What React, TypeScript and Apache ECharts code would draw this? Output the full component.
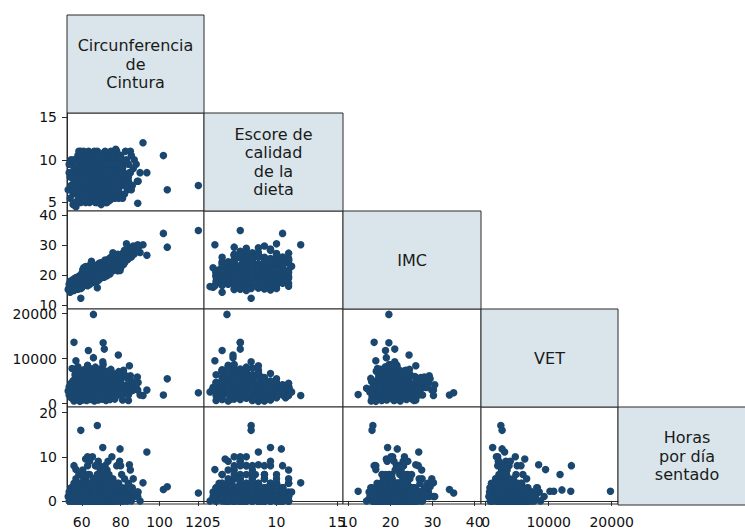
import React, { useEffect, useRef } from "react";
import * as echarts from "echarts";

// Variables of the scatter-plot matrix (diagonal labels, in order)
const variableLabels = [
  "Circunferencia\nde\nCintura",
  "Escore de\ncalidad\nde la\ndieta",
  "IMC",
  "VET",
  "Horas\npor día\nsentado",
];

// Tick values for each variable's axis
const tickValues = [
  [60, 80, 100, 120],
  [5, 10, 15],
  [10, 20, 30, 40],
  [0, 10000, 20000],
  [0, 10, 20],
];

// Scale bounds for each variable
const scaleBounds = [
  [52.4, 122.9],
  [4, 15.5],
  [8.7, 41.5],
  [-750, 21000],
  [-0.7, 21.3],
];

// Observations: [cintura, escore, imc, vet, horas]
const obsCinturaBaja = [
  [53, 6.5, 15.2, 2800, 1], [53.5, 8.5, 17.0, 1900, 0], [54, 5.5, 14.3, 3400, 0],
  [54, 8.0, 18.0, 2100, 2], [54.5, 10.0, 15.6, 1300, 3], [55, 7.0, 16.4, 4200, 3],
  [55, 9.5, 15.1, 2500, 1], [55.5, 6.0, 18.6, 5100, 0], [55.5, 4.75, 16.0, 3600, 2],
  [56, 7.5, 14.9, 3000, 2], [56, 10.0, 16.8, 2500, 4], [56.5, 5.0, 17.3, 6400, 1],
  [56.5, 9.0, 19.0, 4400, 0], [57, 8.5, 15.7, 1600, 0], [57, 6.5, 19.2, 3700, 5],
  [57, 4.5, 16.2, 2600, 0], [57.5, 9.0, 16.1, 4600, 2], [57.5, 7.0, 18.1, 900, 1],
  [58, 5.25, 17.6, 2200, 1], [58, 7.0, 15.3, 5600, 3], [58, 10.5, 18.2, 3300, 0],
  [58.5, 8.0, 19.7, 2700, 6], [58.5, 5.5, 16.6, 7200, 2], [58.5, 11.0, 17.2, 3900, 1],
  [59, 6.0, 17.0, 4000, 1], [59, 9.0, 19.4, 2300, 3], [59, 7.5, 15.9, 3200, 0],
  [59.5, 11.0, 16.3, 3600, 0], [59.5, 7.0, 18.0, 2900, 6], [59.5, 5.0, 19.9, 1800, 2],
  [60, 7.5, 18.5, 1200, 2], [60, 5.5, 20.6, 4800, 4], [60, 8.5, 15.8, 3100, 0],
  [60, 9.0, 20.0, 5300, 1], [60.5, 6.5, 21.8, 2500, 7], [60.5, 10.0, 18.9, 2000, 0],
  [61, 10.0, 17.4, 5500, 1], [61, 7.0, 19.0, 6800, 2], [61, 6.5, 17.0, 2700, 0],
  [61, 8.0, 22.5, 3800, 3], [61.5, 9.5, 16.7, 2000, 3], [61.5, 5.75, 20.3, 3300, 1],
  [62, 5.0, 18.1, 3900, 0], [62, 8.0, 22.9, 1700, 5], [62, 6.0, 20.2, 4400, 1],
  [62, 8.5, 19.3, 3000, 4], [62, 5.75, 19.0, 6200, 9.5], [62.5, 10.5, 18.8, 2900, 2],
  [62.5, 7.25, 17.2, 6000, 0], [63, 7.5, 16.5, 5000, 8], [63, 9.0, 21.3, 3500, 0],
  [63, 6.5, 17.7, 7600, 1], [63, 7.5, 20.5, 1900, 10], [63.5, 11.0, 19.6, 2400, 4],
  [63.5, 5.5, 22.4, 1400, 2], [63.5, 8.75, 18.3, 4900, 1], [64, 8.5, 18.4, 4300, 3],
  [64, 7.0, 20.8, 3200, 9], [64, 10.0, 16.9, 4600, 0], [64, 5.0, 21.0, 4700, 1],
  [64.5, 6.0, 19.9, 2600, 1], [64.5, 9.5, 23.6, 3800, 2],
];

const obsCinturaMedia = [
  [65, 7.5, 24.7, 2200, 0], [65, 8.0, 19.5, 3400, 2], [65, 5.5, 18.3, 5800, 1],
  [65, 9.5, 22.2, 3200, 1], [65.5, 10.5, 21.2, 2800, 3], [65.5, 6.5, 20.1, 4700, 10],
  [65.5, 8.75, 17.6, 1100, 0], [66, 9.0, 17.8, 1500, 1], [66, 7.0, 22.6, 6500, 0],
  [66, 8.0, 19.7, 2000, 4], [66, 5.25, 21.0, 3700, 2], [66.5, 11.0, 19.0, 3600, 5],
  [66.5, 8.5, 20.9, 2400, 2], [66.5, 6.75, 18.8, 5000, 0], [67, 6.0, 18.6, 4900, 0],
  [67, 9.5, 23.1, 3100, 8], [67, 5.0, 21.4, 2700, 3], [67, 7.0, 20.5, 5500, 2],
  [67.5, 7.5, 19.8, 7300, 1], [67.5, 10.0, 22.0, 1800, 4], [67.5, 8.25, 18.1, 3000, 1],
  [68, 8.0, 20.4, 4400, 2], [68, 6.5, 18.0, 3300, 6], [68, 11.0, 21.7, 3600, 0],
  [68, 9.5, 19.0, 2500, 0], [68.5, 9.0, 23.8, 2600, 1], [68.5, 7.0, 19.2, 3900, 9],
  [68.5, 5.75, 22.1, 6200, 0], [69, 5.5, 20.7, 2100, 2], [69, 10.5, 18.9, 4200, 3],
  [69, 8.5, 22.3, 6000, 0], [69, 7.5, 21.4, 3700, 8], [69.5, 6.0, 21.1, 3000, 7],
  [69.5, 9.5, 24.2, 2300, 1], [69.5, 10.75, 20.0, 1300, 2], [70, 7.5, 20.0, 5600, 4],
  [70, 10.0, 22.8, 3500, 2], [70, 5.0, 19.5, 2900, 0], [70, 9.0, 20.9, 4200, 3],
  [70, 4.75, 22.5, 3300, 1], [70.5, 8.0, 21.6, 7900, 1], [70.5, 6.5, 23.4, 1600, 5],
  [71, 7.0, 20.2, 3400, 2], [71, 9.5, 22.7, 2200, 0], [71, 5.5, 24.1, 4800, 6],
  [71, 8.5, 21.5, 4100, 4], [71.5, 8.0, 21.0, 6300, 1], [71.5, 10.5, 19.3, 2700, 3],
  [71.5, 6.25, 20.7, 1000, 0], [72, 6.5, 23.2, 3900, 0], [72, 9.0, 21.9, 1900, 8],
  [72, 11.0, 25.1, 3500, 2], [72, 7.75, 22.0, 5200, 3], [72.5, 7.5, 20.6, 5100, 4],
  [72.5, 8.5, 22.4, 3000, 1], [72.5, 10.25, 23.5, 2300, 0], [73, 5.0, 21.5, 2500, 0],
  [73, 10.0, 24.6, 4400, 5], [73, 7.0, 19.8, 3600, 2], [73, 8.0, 22.5, 2600, 7],
  [73.5, 9.5, 23.0, 2000, 9], [73.5, 6.0, 22.1, 4600, 1], [73.5, 7.25, 24.3, 6600, 0],
  [74, 8.0, 25.5, 3300, 3], [74, 10.5, 21.2, 3900, 0], [74, 7.5, 23.7, 2800, 6],
  [74.5, 9.0, 20.4, 4000, 2], [74.5, 6.5, 22.9, 7100, 1], [74.5, 5.25, 21.8, 3000, 4],
  [75, 11.0, 24.0, 2400, 4], [75, 8.5, 22.0, 3700, 0], [75, 5.5, 26.0, 5000, 2],
  [75.5, 7.0, 23.3, 1700, 10], [75.5, 10.0, 21.6, 4300, 1], [76, 9.5, 24.8, 2900, 3],
  [76, 6.0, 22.6, 6000, 0], [76, 8.0, 27.5, 3500, 5],
];

const obsCinturaAlta = [
  [77, 7.5, 23.5, 4500, 2], [77, 10.0, 25.8, 2300, 0], [77, 5.5, 21.9, 3200, 3],
  [77.5, 9.0, 24.4, 5800, 1], [77.5, 11.25, 23.0, 2600, 2], [78, 6.5, 26.6, 2700, 8],
  [78, 8.5, 22.7, 3800, 2], [78, 11.0, 24.9, 1800, 0], [78.5, 7.0, 27.0, 4800, 4],
  [78.5, 9.75, 21.5, 3400, 1], [79, 9.5, 23.2, 3100, 1], [79, 10.5, 25.3, 3800, 3],
  [79, 8.0, 24.0, 4000, 4], [79.5, 6.0, 24.1, 2100, 9], [80, 8.0, 26.2, 3500, 0],
  [80, 7.5, 22.4, 5300, 2], [80, 10.5, 23.0, 2900, 8], [80.5, 9.0, 25.0, 2500, 6],
  [81, 10.0, 27.3, 4100, 1], [81, 5.5, 24.5, 3000, 3], [81.5, 8.5, 23.6, 7400, 0],
  [82, 7.0, 26.8, 2200, 5], [82, 9.5, 28.4, 3700, 2], [82.5, 11.0, 25.6, 3300, 1],
  [83, 8.0, 26.0, 3200, 3], [83.5, 6.5, 25.2, 2600, 0], [84, 9.5, 28.8, 4200, 4],
  [84, 7.5, 26.7, 1900, 2], [85, 11.0, 27.4, 3400, 7], [85, 8.5, 29.2, 6200, 1],
  [85.5, 10.5, 26.1, 2800, 0], [85.5, 6.5, 27.0, 5000, 2], [86, 7.0, 28.0, 4500, 3],
  [86.5, 9.0, 29.8, 3000, 5], [87, 10.0, 27.1, 4500, 2], [88, 9.5, 28.5, 3600, 1],
  [89, 7.5, 29.0, 4700, 2], [90, 8.5, 27.6, 1900, 0],
];

// Dense core of the sample
const obsNucleo = [
  [57.5, 6.0, 17.5, 3500, 3], [58, 8.5, 16.9, 4100, 0], [58.5, 9.5, 18.5, 1500, 1],
  [59, 5.5, 18.2, 5200, 2], [59, 10.0, 17.8, 2600, 4], [59.5, 8.0, 17.1, 4400, 1],
  [60, 6.0, 19.3, 2200, 3], [60, 10.5, 17.3, 3800, 2], [60.5, 8.0, 19.6, 6300, 0],
  [60.5, 5.25, 18.0, 2900, 1], [61, 9.0, 18.3, 1600, 5], [61, 11.0, 20.9, 4500, 0],
  [61.5, 7.5, 18.7, 3500, 2], [61.5, 6.0, 21.5, 5700, 4], [62, 9.5, 17.6, 2500, 0],
  [62, 7.0, 21.0, 4800, 2], [62.5, 5.5, 19.5, 2000, 3], [62.5, 8.75, 20.6, 3700, 1],
  [63, 5.75, 19.0, 5400, 0], [63, 10.5, 18.0, 3200, 3], [63.5, 7.0, 21.7, 2800, 4],
  [63.5, 9.5, 19.9, 6700, 2], [64, 6.5, 17.4, 3600, 0], [64, 9.0, 22.2, 2100, 6],
  [64.5, 7.5, 20.3, 5400, 0], [64.5, 10.5, 18.6, 3100, 1], [65, 6.25, 21.8, 2600, 3],
  [65, 10.0, 18.6, 4500, 0], [65.5, 7.25, 19.0, 3900, 2], [65.5, 9.25, 23.3, 1700, 1],
  [66, 6.0, 20.4, 2900, 5], [66, 10.25, 21.9, 4000, 0], [66.5, 7.75, 22.8, 3200, 3],
  [66.5, 5.5, 19.6, 4400, 1], [67, 8.75, 19.3, 5900, 0], [67, 10.5, 20.0, 2300, 2],
  [67.5, 6.25, 21.0, 1400, 4], [67.5, 9.0, 20.7, 4300, 0], [68, 7.25, 22.9, 2200, 1],
  [68, 5.0, 19.8, 4700, 2], [68.5, 10.0, 20.3, 3100, 6], [68.5, 8.0, 21.8, 5400, 0],
  [69, 6.5, 19.6, 3400, 1], [69, 9.25, 20.4, 1800, 3], [69.5, 7.0, 22.9, 4900, 2],
  [69.5, 8.5, 19.9, 2700, 0], [70, 6.0, 21.7, 3800, 1], [70, 8.25, 23.2, 2400, 6],
  [70.5, 9.5, 20.5, 5000, 2], [70.5, 7.0, 22.0, 3000, 0], [71, 10.0, 21.3, 3900, 1],
  [71, 6.0, 22.9, 2600, 3], [71.5, 9.0, 24.6, 4500, 0], [71.5, 7.5, 22.3, 2000, 2],
  [72, 5.75, 21.4, 5600, 1], [72, 8.0, 20.3, 3300, 4], [72.5, 9.5, 22.6, 4600, 0],
  [72.5, 6.0, 23.9, 2700, 2], [73, 9.0, 21.1, 3000, 3], [73, 6.5, 23.6, 5300, 0],
  [73.5, 8.5, 21.6, 1500, 1], [73.5, 10.5, 22.8, 3400, 2], [74, 6.0, 24.2, 4200, 0],
  [74, 9.5, 22.3, 2500, 4], [74.5, 8.0, 24.9, 3500, 1], [75, 7.0, 21.7, 5900, 3],
  [75, 9.5, 25.2, 2000, 0], [75.5, 8.5, 23.8, 4700, 2], [76, 7.0, 21.5, 2300, 1],
  [76, 10.5, 23.4, 4100, 0], [76.5, 6.5, 24.5, 3300, 3], [76.5, 9.0, 22.0, 5400, 1],
  [77, 8.5, 26.4, 2800, 0], [77.5, 6.0, 23.7, 4200, 4], [78, 9.5, 25.6, 2400, 1],
  [78.5, 8.0, 23.9, 3600, 0], [79, 6.5, 26.8, 5000, 2], [79.5, 8.5, 22.9, 3000, 3],
  [80, 9.5, 24.7, 4300, 1], [81, 7.5, 25.4, 2600, 0], [56, 8.5, 17.7, 3200, 1],
  [56.5, 6.5, 15.5, 4900, 2], [55, 8.0, 17.6, 2800, 0], [54.5, 7.0, 16.5, 4500, 1],
  [53.5, 9.5, 15.8, 3700, 2],
];

// Observations at the upper and lower ends of the energy intake (VET)
const obsVetExtremos = [
  [55, 6.5, 16.9, 7800, 1], [56, 9.0, 15.4, 600, 2], [57, 7.5, 17.0, 6900, 0],
  [58, 6.0, 18.8, 8200, 3], [59, 8.5, 16.5, 500, 1], [60, 7.0, 17.7, 7000, 0],
  [60.5, 9.5, 19.1, 800, 2], [61, 5.5, 18.4, 7500, 1], [62, 7.5, 20.7, 6600, 3],
  [62.5, 9.0, 17.9, 700, 0], [63, 6.0, 21.5, 8500, 2], [64, 8.0, 19.4, 6400, 1],
  [64.5, 5.5, 17.9, 900, 4], [65, 7.0, 20.8, 7700, 0], [66, 8.5, 18.3, 6900, 2],
  [66.5, 6.0, 22.3, 600, 1], [67, 7.5, 21.2, 8100, 3], [68, 6.0, 20.0, 7000, 1],
  [68.5, 9.0, 21.0, 800, 0], [69, 7.0, 18.6, 6500, 5], [70, 5.5, 22.1, 7400, 2],
  [70.5, 9.0, 21.8, 1000, 1], [71, 6.5, 19.7, 8700, 0], [72, 7.0, 23.0, 6800, 2],
  [72.5, 5.0, 20.8, 700, 3], [73, 8.5, 23.1, 7200, 1], [74, 6.5, 21.5, 6200, 0],
  [74.5, 9.5, 23.8, 900, 2], [75, 6.0, 24.5, 7600, 1], [76, 8.5, 22.3, 6700, 3],
  [77, 6.5, 25.1, 1000, 0], [78, 7.5, 24.6, 6500, 1], [79, 5.5, 23.4, 7100, 2],
  [80, 7.0, 25.8, 6000, 0], [81, 9.0, 26.0, 800, 1], [82, 6.0, 24.2, 6400, 2],
  [83, 7.0, 27.2, 5800, 0], [84, 8.0, 25.6, 700, 3], [61.5, 8.0, 19.6, 5900, 6],
  [67.5, 8.0, 22.5, 5600, 8],
];

// Observations far from the main cloud
const obsAtipicos = [
  [120, 7.0, 35.0, 2400, 1.8], [102, 10.5, 34.0, 1900, 2.6], [104, 6.5, 29.4, 5500, 3.2],
  [91.5, 12.0, 30.2, 1800, 4.1], [88.8, 4.9, 30.2, 3000, 1], [83, 10.0, 30.5, 4200, 1],
  [88.6, 7.5, 28.0, 5900, 2], [59.5, 7.9, 12.3, 2000, 2.2],
];

// Observations with a high energy intake (VET)
const obsVetAlto = [
  [66, 5.9, 19.6, 19800, 2.2], [56, 7.0, 16.1, 13600, 8.0], [71, 7.0, 19.6, 13500, 2.2],
  [71.6, 7.0, 21.0, 12100, 2.5], [63.4, 5.5, 18.8, 11800, 6.0], [78.8, 6.4, 24.4, 10800, 2.2],
  [66, 6.4, 19.0, 10200, 2.2], [57, 4.9, 16.5, 9500, 7.1], [70.8, 7.9, 21.0, 9270, 1],
  [84.5, 8.5, 26.0, 8400, 8.2],
];

// Observations with many sitting hours
const obsHorasAltas = [
  [68, 7.9, 15.8, 2400, 17.1], [59.5, 7.9, 15.6, 2600, 16.0], [70.8, 9.5, 19.3, 1100, 12.1],
  [79.7, 10.4, 21.6, 2600, 11.8], [93.5, 8.5, 26.7, 3000, 11.1],
];

const COL_EDGES = [67, 204, 343, 481, 618, 756];
const ROW_EDGES = [15, 113, 211, 309, 407, 505];
const NAVY = "#1a476f";
const LINE = "#2b2b2b";
const FONT = "DejaVu Sans";

function buildOption() {
  const observations = [
    ...obsCinturaBaja,
    ...obsCinturaMedia,
    ...obsCinturaAlta,
    ...obsNucleo,
    ...obsVetExtremos,
    ...obsAtipicos,
    ...obsVetAlto,
    ...obsHorasAltas,
  ];
  const grid: any[] = [];
  const xAxis: any[] = [];
  const yAxis: any[] = [];
  const series: any[] = [];
  const graphic: any[] = [];
  const fmt = (v: number) => String(v);

  for (let r = 1; r < 5; r++) {
    for (let c = 0; c < r; c++) {
      const idx = grid.length;
      grid.push({
        left: COL_EDGES[c],
        top: ROW_EDGES[r],
        width: COL_EDGES[c + 1] - COL_EDGES[c],
        height: ROW_EDGES[r + 1] - ROW_EDGES[r],
        show: true,
        borderColor: LINE,
        borderWidth: 1,
        backgroundColor: "#ffffff",
        containLabel: false,
      });
      const showX = r === 4;
      const showY = c === 0;
      xAxis.push({
        gridIndex: idx,
        type: "value",
        min: scaleBounds[c][0],
        max: scaleBounds[c][1],
        splitLine: { show: false },
        axisLine: { show: showX, lineStyle: { color: LINE, width: 1 } },
        axisTick: {
          show: showX,
          length: 5,
          customValues: tickValues[c],
          lineStyle: { color: LINE, width: 1 },
        },
        axisLabel: {
          show: showX,
          customValues: tickValues[c],
          margin: 11,
          formatter: fmt,
          fontFamily: FONT,
          fontSize: 14,
          color: "#111",
        },
      });
      yAxis.push({
        gridIndex: idx,
        type: "value",
        min: scaleBounds[r][0],
        max: scaleBounds[r][1],
        splitLine: { show: false },
        axisLine: { show: showY, lineStyle: { color: LINE, width: 1 } },
        axisTick: {
          show: showY,
          length: 5,
          customValues: tickValues[r],
          lineStyle: { color: LINE, width: 1 },
        },
        axisLabel: {
          show: showY,
          customValues: tickValues[r],
          margin: 10,
          formatter: fmt,
          fontFamily: FONT,
          fontSize: 14,
          color: "#111",
        },
      });
      series.push({
        type: "scatter",
        xAxisIndex: idx,
        yAxisIndex: idx,
        symbol: "circle",
        symbolSize: 7.5,
        silent: true,
        itemStyle: { color: NAVY, opacity: 1 },
        data: observations.map((o) => [o[c], o[r]]),
      });
    }
  }

  // Diagonal cells with the variable names
  for (let i = 0; i < 5; i++) {
    const x0 = COL_EDGES[i];
    const y0 = ROW_EDGES[i];
    const w = COL_EDGES[i + 1] - x0;
    const h = ROW_EDGES[i + 1] - y0;
    graphic.push({
      type: "rect",
      shape: { x: x0, y: y0, width: w, height: h },
      style: { fill: "#d9e5eb", stroke: LINE, lineWidth: 1 },
      silent: true,
    });
    graphic.push({
      type: "text",
      x: x0 + w / 2,
      y: y0 + h / 2,
      silent: true,
      style: {
        text: variableLabels[i],
        fontFamily: FONT,
        fontSize: 16,
        lineHeight: 18.5,
        fill: "#1a1a1a",
        align: "center",
        verticalAlign: "middle",
      },
    });
  }

  return {
    animation: false,
    backgroundColor: "#ffffff",
    grid,
    xAxis,
    yAxis,
    series,
    graphic,
  };
}

export default function App() {
  const ref = useRef<HTMLDivElement>(null);
  useEffect(() => {
    if (!ref.current) return;
    const chart = echarts.init(ref.current, null, { renderer: "svg" });
    chart.setOption(buildOption() as any);
    return () => chart.dispose();
  }, []);
  return (
    <div
      ref={ref}
      style={{ position: "fixed", left: 0, top: 0, width: 745, height: 529, background: "#fff" }}
    />
  );
}
